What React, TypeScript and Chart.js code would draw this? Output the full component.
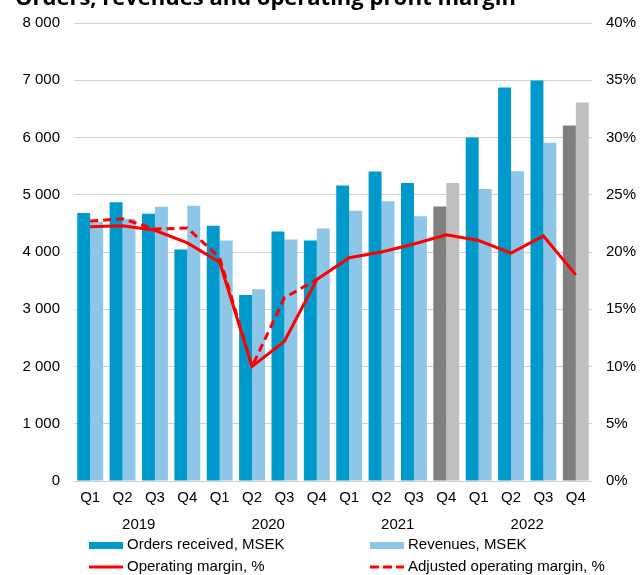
import React, { useEffect, useRef } from "react";
import { Chart, registerables } from "chart.js";

Chart.register(...registerables);

const quarters = ["Q1", "Q2", "Q3", "Q4", "Q1", "Q2", "Q3", "Q4", "Q1", "Q2", "Q3", "Q4", "Q1", "Q2", "Q3", "Q4"];
const years = ["2019", "2020", "2021", "2022"];
const ordersReceived = [4680, 4870, 4670, 4045, 4460, 3250, 4360, 4200, 5160, 5405, 5205, 4795, 6000, 6875, 6995, 6210];
const revenues = [4530, 4580, 4790, 4810, 4200, 3350, 4220, 4410, 4720, 4885, 4625, 5205, 5100, 5410, 5910, 6610];
const operatingMargin = [22.2, 22.3, 21.9, 20.8, 19.1, 10.0, 12.2, 17.6, 19.5, 20.0, 20.7, 21.5, 21.0, 19.9, 21.4, 18.0];
const adjustedMargin = [22.7, 22.9, 22.0, 22.1, 19.5, 10.0, 16.0, 17.6, null, null, null, null, null, null, null, null];
const forecastIdx = [11, 15];
const leftTicks = { min: 0, max: 8000, step: 1000 };
const rightTicks = { min: 0, max: 40, step: 5 };

const TITLE = "Orders, revenues and operating profit margin";
const FONT = '"Liberation Sans", Arial, sans-serif';

const ORDERS_COLOR = "#0099CC";
const REV_COLOR = "#8EC6E8";
const ORDERS_GREY = "#7F7F7F";
const REV_GREY = "#BFBFBF";

const fmtThousands = (v: number) => String(v).replace(/\B(?=(\d{3})+(?!\d))/g, " ");

const legendItems = [
  { ds: 0, col: 0, row: 0, kind: "box", color: ORDERS_COLOR },
  { ds: 1, col: 1, row: 0, kind: "box", color: REV_COLOR },
  { ds: 2, col: 0, row: 1, kind: "line", color: "#FF0000" },
  { ds: 3, col: 1, row: 1, kind: "dash", color: "#FF0000" },
];

const decorPlugin = {
  id: "decor",
  afterDraw(chart: any) {
    const ctx = chart.ctx;
    ctx.save();
    ctx.fillStyle = "#000";
    ctx.font = 'bold 22px "Open Sans", sans-serif';
    ctx.textBaseline = "alphabetic";
    ctx.textAlign = "left";
    ctx.fillText(TITLE, 15, 5);

    const colX = [89, 370];
    const rowY = [545, 567];
    ctx.font = "15px " + FONT;
    ctx.textBaseline = "middle";
    legendItems.forEach((it) => {
      const x = colX[it.col];
      const y = rowY[it.row];
      const label = chart.data.datasets[it.ds].label;
      if (it.kind === "box") {
        ctx.fillStyle = it.color;
        ctx.fillRect(x, y - 3, 34, 7);
      } else {
        ctx.strokeStyle = it.color;
        ctx.lineWidth = 3;
        ctx.setLineDash(it.kind === "dash" ? [9, 4] : []);
        ctx.beginPath();
        ctx.moveTo(x, y);
        ctx.lineTo(x + 34, y);
        ctx.stroke();
        ctx.setLineDash([]);
      }
      ctx.fillStyle = "#000";
      ctx.fillText(label, x + 38, y);
    });
    ctx.restore();
  },
};

export default function App() {
  const ref = useRef<HTMLCanvasElement | null>(null);
  useEffect(() => {
    if (!ref.current) return;
    const chart = new Chart(ref.current, {
      type: "bar",
      data: {
        labels: quarters,
        datasets: [
          {
            type: "bar",
            label: "Orders received, MSEK",
            data: ordersReceived,
            backgroundColor: ordersReceived.map((_, i) => (forecastIdx.includes(i) ? ORDERS_GREY : ORDERS_COLOR)),
            yAxisID: "y",
            order: 2,
            categoryPercentage: 0.8,
            barPercentage: 1.0,
          },
          {
            type: "bar",
            label: "Revenues, MSEK",
            data: revenues,
            backgroundColor: revenues.map((_, i) => (forecastIdx.includes(i) ? REV_GREY : REV_COLOR)),
            yAxisID: "y",
            order: 2,
            categoryPercentage: 0.8,
            barPercentage: 1.0,
          },
          {
            type: "line",
            label: "Operating margin, %",
            data: operatingMargin,
            borderColor: "#FF0000",
            borderWidth: 3,
            pointRadius: 0,
            yAxisID: "y1",
            order: 0,
            tension: 0,
          },
          {
            type: "line",
            label: "Adjusted operating margin, %",
            data: adjustedMargin,
            borderColor: "#FF0000",
            borderWidth: 3,
            borderDash: [8, 5],
            pointRadius: 0,
            yAxisID: "y1",
            order: 1,
            tension: 0,
            spanGaps: false,
          },
        ] as any,
      },
      options: {
        animation: false,
        responsive: false,
        devicePixelRatio: 1,
        layout: { padding: { top: 20, bottom: 34, left: 0, right: 0 } },
        plugins: {
          legend: { display: false },
          title: { display: false },
          tooltip: { enabled: false },
        },
        scales: {
          x: {
            type: "category",
            position: "bottom",
            weight: 0,
            grid: { display: false, drawTicks: false },
            border: { display: false },
            ticks: { color: "#000", font: { family: FONT, size: 15 }, padding: 8, maxRotation: 0, autoSkip: false },
            afterFit: (s: any) => { s.height = 26; },
          },
          x2: {
            type: "category",
            position: "bottom",
            weight: 1,
            labels: years,
            offset: true,
            grid: { display: false, drawTicks: false },
            border: { display: false },
            ticks: { color: "#000", font: { family: FONT, size: 15 }, padding: 9, maxRotation: 0, autoSkip: false },
            afterFit: (s: any) => { s.height = 34; },
          },
          y: {
            position: "left",
            min: leftTicks.min,
            max: leftTicks.max,
            ticks: {
              stepSize: leftTicks.step,
              color: "#000",
              font: { family: FONT, size: 15 },
              padding: 14,
              callback: (v: any) => fmtThousands(Number(v)),
            },
            grid: { color: "#D0D0D0", lineWidth: 1, drawTicks: false },
            border: { display: false },
            afterFit: (s: any) => { s.width = 74; },
          },
          y1: {
            position: "right",
            min: rightTicks.min,
            max: rightTicks.max,
            ticks: {
              stepSize: rightTicks.step,
              color: "#000",
              font: { family: FONT, size: 15 },
              padding: 14,
              callback: (v: any) => v + "%",
            },
            grid: { display: false, drawTicks: false },
            border: { display: false },
            afterFit: (s: any) => { s.width = 49; },
          },
        },
      } as any,
      plugins: [decorPlugin],
    });
    return () => chart.destroy();
  }, []);
  return (
    <div style={{ position: "absolute", left: 0, top: 0, width: 641, height: 575, background: "#fff" }}>
      <canvas ref={ref} width={641} height={575} style={{ display: "block" }} />
    </div>
  );
}
